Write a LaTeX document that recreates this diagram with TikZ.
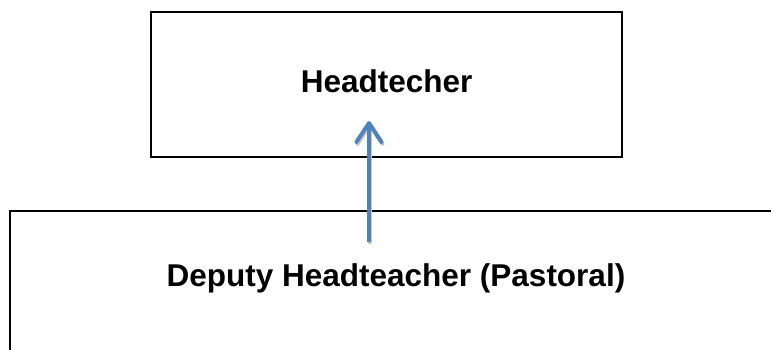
\documentclass[tikz,border=0pt]{standalone}
\usepackage{fontspec}
\setmainfont{Liberation Sans}
\usepackage{tikz}
\usetikzlibrary{arrows.meta, positioning, calc}
\definecolor{arrowblue}{HTML}{4F81BD}
\definecolor{shadowgray}{HTML}{C8C8C8}

\begin{document}
\begin{tikzpicture}[x=1pt, y=-1pt,
    rolebox/.style={draw=black, line width=1.8pt, inner sep=0pt},
    roletext/.style={font=\fontsize{31.5}{36}\selectfont\bfseries, inner sep=0pt}]
    % Page frame
    \useasboundingbox (0,0) rectangle (771,350);
    \clip (0,0) rectangle (771,350);
    % Top box
    \node[rolebox, minimum width=471pt, minimum height=145pt] (head) at (386.5,84.5) {};
    \node[roletext] (headtext) at (386.7,81) {Headtecher};
    % Bottom box, running off the page
    \node[rolebox, minimum width=765pt, minimum height=200pt] (deputy) at (392.5,311) {};
    \node[roletext] (deputytext) at (396,278.5) {Deputy Headteacher (Pastoral)};
    % Arrow ends
    \coordinate (tail) at (369,242);
    \coordinate (tip) at (369,121);
    % Arrow with light shadow
    \draw[shadowgray, line width=4pt, -{Straight Barb[length=19pt, width=25pt, round]}]
        ([shift={(1,2)}]tail) -- ([shift={(1,2)}]tip);
    \draw[arrowblue, line width=4pt, -{Straight Barb[length=19pt, width=25pt, round]}]
        (tail) -- (tip);
\end{tikzpicture}
\end{document}
